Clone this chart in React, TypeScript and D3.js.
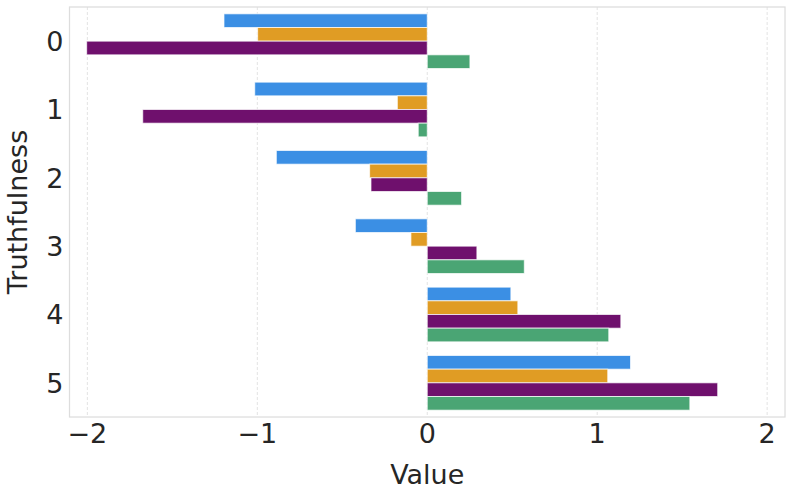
import * as d3 from "d3";

const categories = ["0", "1", "2", "3", "4", "5"];
const seriesNames = ["s1", "s2", "s3", "s4"];
const blueValues = [-1.196, -1.015, -0.888, -0.423, 0.492, 1.196];
const orangeValues = [-0.998, -0.176, -0.339, -0.096, 0.533, 1.062];
const purpleValues = [-2.004, -1.674, -0.331, 0.292, 1.139, 1.709];
const greenValues = [0.251, -0.053, 0.202, 0.571, 1.068, 1.545];
const xTicks = [-2, -1, 0, 1, 2];

const colors = ["#3b8fe4", "#e09c24", "#6f106d", "#4aa574"];
const series = [blueValues, orangeValues, purpleValues, greenValues];

const W = 793;
const H = 496;
const M = { left: 69.5, right: 8, top: 7, bottom: 79 };
const font = "'DejaVu Sans', sans-serif";
const textColor = "#262626";

export default function App() {
  const x = d3
    .scaleLinear()
    .domain([-2.105, 2.105])
    .range([M.left, W - M.right]);
  const y = d3
    .scaleBand<string>()
    .domain(categories)
    .range([M.top, H - M.bottom])
    .paddingInner(0)
    .paddingOuter(0);
  const inner = d3
    .scaleBand<string>()
    .domain(seriesNames)
    .range([y.bandwidth() * 0.1, y.bandwidth() * 0.9]);

  const plotBottom = H - M.bottom;

  return (
    <svg
      width={W}
      height={H}
      style={{ position: "absolute", left: 0, top: 0 }}
      fontFamily={font}
    >
      <rect width={W} height={H} fill="#ffffff" />
      {/* Grid */}
      {xTicks.map((t) => (
        <line
          key={t}
          x1={x(t)}
          x2={x(t)}
          y1={M.top}
          y2={plotBottom}
          stroke="#e3e3e3"
          strokeWidth={1}
          strokeDasharray="3,2"
        />
      ))}
      {/* Bars */}
      {categories.map((c, i) =>
        series.map((vals, s) => {
          const v = vals[i];
          const x0 = x(Math.min(0, v));
          const x1 = x(Math.max(0, v));
          return (
            <rect
              key={`${c}-${s}`}
              x={x0}
              y={(y(c) ?? 0) + (inner(seriesNames[s]) ?? 0)}
              width={x1 - x0}
              height={inner.bandwidth()}
              fill={colors[s]}
              stroke="#ffffff"
              strokeOpacity={0.7}
              strokeWidth={1}
            />
          );
        })
      )}
      {/* Spines */}
      <rect
        x={M.left}
        y={M.top}
        width={W - M.left - M.right}
        height={plotBottom - M.top}
        fill="none"
        stroke="#dddddd"
        strokeWidth={1.25}
      />
      {/* X ticks */}
      {xTicks.map((t) => (
        <text
          key={t}
          x={x(t)}
          y={plotBottom + 26}
          textAnchor="middle"
          fontSize={27}
          fill={textColor}
        >
          {t < 0 ? `\u2212${Math.abs(t)}` : t}
        </text>
      ))}
      {/* Y ticks */}
      {categories.map((c) => (
        <text
          key={c}
          x={M.left - 6}
          y={(y(c) ?? 0) + y.bandwidth() / 2}
          dy="0.36em"
          textAnchor="end"
          fontSize={27}
          fill={textColor}
        >
          {c}
        </text>
      ))}
      <text
        x={(M.left + W - M.right) / 2}
        y={484}
        textAnchor="middle"
        fontSize={27}
        fill={textColor}
      >
        Value
      </text>
      <text
        transform={`translate(27,${(M.top + plotBottom) / 2}) rotate(-90)`}
        textAnchor="middle"
        fontSize={27}
        fill={textColor}
      >
        Truthfulness
      </text>
    </svg>
  );
}
